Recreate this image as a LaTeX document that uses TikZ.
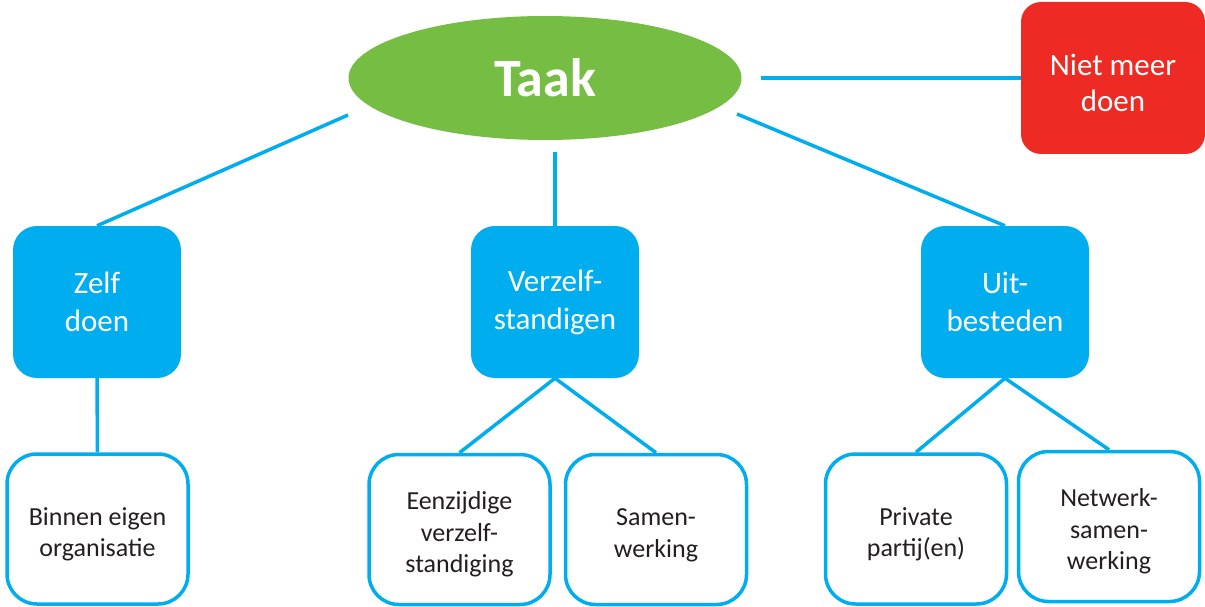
\documentclass[tikz,border=0pt]{standalone}
\usepackage{fontspec}
\setmainfont{Carlito}
\usetikzlibrary{shapes.geometric}

\definecolor{taakgreen}{HTML}{76BE43}
\definecolor{stopred}{HTML}{EE2A24}
\definecolor{routeblue}{HTML}{00AEEF}
\definecolor{textgray}{HTML}{231F20}

\begin{document}
\begin{tikzpicture}[x=1pt, y=-1pt]
  \tikzstyle{every edge}=[draw=routeblue, line width=3.5pt]
  \tikzstyle{choice}=[rectangle, rounded corners=24pt, fill=routeblue, text=white, minimum width=168pt, minimum height=152pt, align=center, font=\fontsize{31}{38}\selectfont]
  \tikzstyle{form}=[rectangle, rounded corners=30pt, draw=routeblue, line width=3.5pt, fill=white, text=textgray, minimum width=181pt, minimum height=150pt, align=center, font=\fontsize{26}{31.5}\selectfont]

  \useasboundingbox (0,0) rectangle (1205,607);

  \node[ellipse, fill=taakgreen, minimum width=393pt, minimum height=124pt, text=white, font=\bfseries\fontsize{54}{60}\selectfont] (taak) at (545,78) {Taak};
  \node[rectangle, rounded corners=20pt, fill=stopred, text=white, minimum width=184pt, minimum height=152pt, align=center, font=\fontsize{31}{36}\selectfont] (niet) at (1113,78) {\rule{0pt}{32pt}Niet meer\\doen};

  \node[choice] (zelf)    at (97,302)    {Zelf\\doen};
  \node[choice] (verzelf) at (555,302)   {Verzelf-\\standigen};
  \node[choice] (uit)     at (1005,302)  {Uit-\\besteden};

  \node[form] (binnen)  at (97.5,529)   {\rule{0pt}{28pt}Binnen eigen\\organisatie};
  \node[form] (eenz)    at (459.5,529.5) {\rule{0pt}{28pt}Eenzijdige\\verzelf-\\standiging};
  \node[form] (samen)   at (656,529.5)  {\rule{0pt}{28pt}Samen-\\werking};
  \node[form] (private) at (916,529)    {\rule{0pt}{28pt}Private\\partij(en)};
  \node[form] (netwerk) at (1109,526.5) {\rule{0pt}{28pt}Netwerk-\\samen-\\werking};

  % loose ends just outside the ellipse
  \coordinate (taakleft)  at (348,115);
  \coordinate (taakright) at (737,114);

  \path (taakleft) edge (zelf.north);
  \path (taak.south -| verzelf.north) edge[shorten <=12pt] (verzelf.north);
  \path (taakright) edge (uit.north);
  \path (taak.east) edge[shorten <=19pt] (niet.west |- taak.east);

  \path (zelf.south) edge (binnen.north);
  \path (verzelf.south) edge (eenz.north);
  \path (verzelf.south) edge (samen.north);
  \path (uit.south) edge (private.north);
  \path (uit.south) edge (netwerk.north);
\end{tikzpicture}
\end{document}
